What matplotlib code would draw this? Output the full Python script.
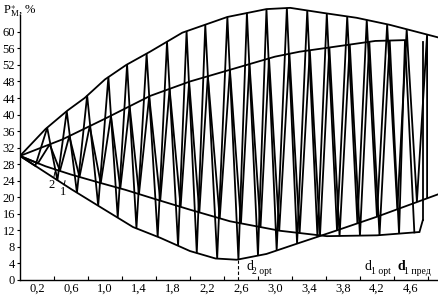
import matplotlib
matplotlib.use("Agg")
import matplotlib.pyplot as plt

plt.rcParams["font.family"] = ["Liberation Serif", "DejaVu Serif"]
plt.rcParams["mathtext.fontset"] = "custom"
plt.rcParams["mathtext.rm"] = "Liberation Serif"
plt.rcParams["mathtext.it"] = "Liberation Serif"

# envelopes (d, P_M*, %)
outer_up_x = [0, 0.3, 0.56, 0.76, 1.0, 1.25, 1.53, 1.91, 2.44, 2.9, 3.18, 3.56, 3.96, 4.35, 4.93]
outer_up_y = [30, 36.5, 41, 44, 48.5, 52, 55.2, 59.8, 63.6, 65.5, 65.8, 64.6, 63.4, 61.7, 58.6]
outer_lo_x = [0, 0.3, 0.6, 0.94, 1.33, 1.65, 2.0, 2.3, 2.55, 2.9, 3.29, 3.7, 4.2, 4.93]
outer_lo_y = [30, 26, 22, 17.7, 12.8, 10.2, 7, 5.2, 4.9, 6.3, 9, 11.8, 15.3, 20.8]
inner_up_x = [0, 0.5, 1.0, 1.53, 2.0, 2.5, 3.0, 3.29, 3.6, 4.18, 4.53]
inner_up_y = [30, 34, 39, 44.5, 48, 51, 54, 55.2, 56.1, 57.8, 58]
inner_lo_x = [0, 0.3, 0.6, 0.94, 1.24, 1.6, 2.0, 2.47, 3.06, 3.61, 4.2, 4.7, 4.74]
inner_lo_y = [30, 27.5, 25.5, 23.5, 21.8, 19.5, 17, 14.2, 11.9, 10.6, 10.8, 11.6, 14.5]

# curve 1: zigzag between the outer envelopes
c1_x = [0, 0.18, 0.32, 0.44, 0.55, 0.67, 0.79, 0.92, 1.04, 1.15, 1.26, 1.37, 1.49, 1.62,
        1.73, 1.86, 1.96, 2.08, 2.18, 2.32, 2.44, 2.57, 2.67, 2.8, 2.9, 3.02, 3.14, 3.26,
        3.38, 3.5, 3.61, 3.73, 3.85, 3.97, 4.08, 4.2, 4.32, 4.44, 4.55, 4.67, 4.79, 4.79]
c1_y = [30, 27.6, 36.8, 24.1, 40.8, 21.1, 44.6, 18.0, 49.1, 15.1, 52.1, 12.5, 54.7, 10.4,
        57.6, 8.3, 60.2, 6.5, 61.7, 5.2, 63.6, 4.95, 64.6, 5.9, 65.5, 7.1, 65.8, 8.8,
        65.2, 10.4, 64.4, 12.0, 63.7, 13.7, 62.9, 15.3, 61.8, 17.1, 60.6, 18.9, 59.4, 19.8]

# curve 2: zigzag between the inner envelopes
c2_x = [0, 0.21, 0.35, 0.47, 0.58, 0.70, 0.82, 0.95, 1.07, 1.18, 1.29, 1.40, 1.52, 1.65,
        1.76, 1.89, 1.99, 2.11, 2.21, 2.35, 2.47, 2.60, 2.70, 2.83, 2.93, 3.05, 3.17, 3.29,
        3.41, 3.53, 3.64, 3.76, 3.88, 4.00, 4.11, 4.23, 4.35, 4.46, 4.53, 4.64]
c2_y = [30, 28.2, 32.8, 26.4, 34.8, 24.9, 37.2, 23.4, 39.7, 22.1, 42.0, 20.8, 44.4, 19.2,
        46.2, 17.7, 47.9, 16.3, 49.3, 14.9, 50.8, 13.7, 52.2, 12.8, 53.6, 11.9, 54.7, 11.4,
        55.5, 10.8, 56.2, 10.6, 56.9, 10.7, 57.6, 10.8, 57.9, 11.2, 58.0, 11.5]
c2_end_x = [4.74, 4.74]
c2_end_y = [14.5, 57.5]

d_opt2 = 2.56
y_ticks = list(range(0, 61, 4))
x_labels = [0.2, 0.6, 1.0, 1.4, 1.8, 2.2, 2.6, 3.0, 3.4, 3.8, 4.2, 4.6]
x_marks = [0.4, 0.8, 1.2, 1.6, 2.0, 2.4, 2.8, 3.2, 3.6, 4.0, 4.4, 4.8]

W, H = 439, 296
fig = plt.figure(figsize=(W / 100, H / 100), dpi=100)
ax = fig.add_axes([20 / W, 16 / H, 419 / W, 280 / H])
ax.set_xlim(0, 4.93)
ax.set_ylim(0, 67.7)

lw = 1.3
for xs, ys in [(outer_up_x, outer_up_y), (outer_lo_x, outer_lo_y),
               (inner_up_x, inner_up_y), (inner_lo_x, inner_lo_y),
               (c1_x, c1_y), (c2_x, c2_y), (c2_end_x, c2_end_y)]:
    ax.plot(xs, ys, color="black", lw=lw, solid_joinstyle="miter")

ax.plot([d_opt2, d_opt2], [0, 4.8], color="black", lw=0.8, ls=(0, (3, 2)))

# curve numbers with small leaders
ax.text(0.37, 21.6, "2", fontsize=9, ha="center", va="bottom")
ax.plot([0.40, 0.41], [25.0, 26.0], color="black", lw=0.7)
ax.text(0.51, 19.8, "1", fontsize=9, ha="center", va="bottom")
ax.plot([0.52, 0.53], [23.0, 24.0], color="black", lw=0.7)

# diameter labels under the curves
def d_label(x, sub, bold=False):
    ax.text(x, 1.8, "d", fontsize=10, fontweight="bold" if bold else "normal",
            ha="left", va="bottom")
    ax.text(x + 0.075, 1.0, sub, fontsize=7, ha="left", va="bottom")

d_label(2.66, "2 opt")
d_label(4.05, "1 opt")
d_label(4.44, "1 пред", bold=True)

for s in ["top", "right"]:
    ax.spines[s].set_visible(False)
ax.spines["left"].set_bounds(0, 64)
ax.spines["left"].set_linewidth(1.0)
ax.spines["bottom"].set_linewidth(1.0)

ax.set_yticks(y_ticks)
ax.set_yticklabels([str(v) for v in y_ticks], fontsize=9)
ax.tick_params(axis="y", direction="out", length=2, pad=1.5)

ax.set_xticks(x_marks)
ax.set_xticklabels([])
ax.set_xticks(x_labels, minor=True)
ax.set_xticklabels([f"{v:.1f}".replace(".", ",") for v in x_labels], minor=True, fontsize=9)
ax.tick_params(axis="x", which="major", direction="in", length=3)
ax.tick_params(axis="x", which="minor", length=0, pad=2)

fig.text(3 / W, 1 - 14 / H, r"$\mathrm{P}_{\mathrm{M}}^{\ast}$, %", fontsize=9)

fig.savefig("out.png", dpi=100)
